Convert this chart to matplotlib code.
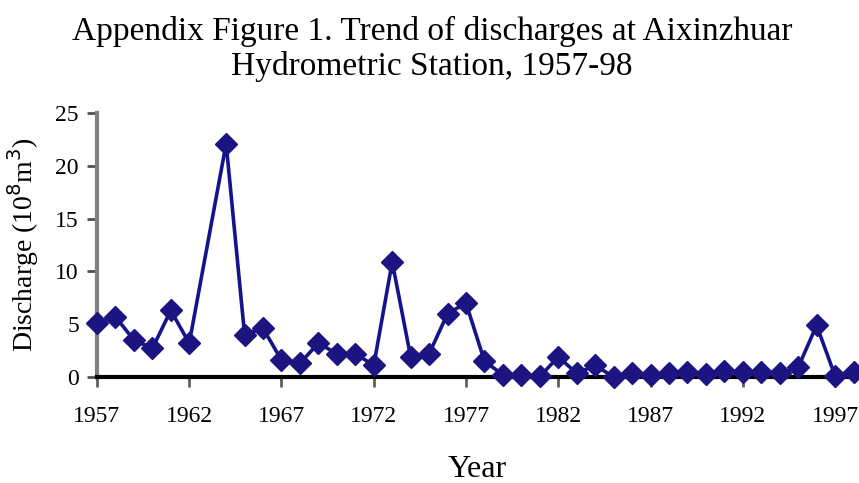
import numpy as np
import matplotlib

matplotlib.use("Agg")
import matplotlib.pyplot as plt

# annual discharge, 10^8 m3 (1963 not recorded)
years = np.arange(1957, 1999)
discharge = [
    5.1, 5.7, 3.5, 2.7, 6.3, 3.2, np.nan, 22.1, 4.0, 4.6,
    1.6, 1.3, 3.2, 2.2, 2.2, 1.1, 10.9, 1.9, 2.2, 6.0,
    7.0, 1.5, 0.2, 0.2, 0.05, 1.9, 0.35, 1.1, 0.0, 0.35,
    0.2, 0.35, 0.5, 0.3, 0.55, 0.5, 0.5, 0.35, 0.9, 4.9,
    0.1, 0.5,
]
tick_years = np.arange(1957, 1998, 5)
y_ticks = [0, 5, 10, 15, 20, 25]

plt.rcParams["font.family"] = ["Liberation Serif", "DejaVu Serif"]

q = np.array(discharge)
ok = ~np.isnan(q)

fig = plt.figure(figsize=(8.59, 4.83), dpi=100)
ax = fig.add_axes([0.1129, 0.2195, 0.885, 0.5466])

ax.plot(years[ok], q[ok], color="#14148c", linewidth=2.6,
        marker="D", markersize=11, markerfacecolor="#1c1480",
        markeredgecolor="#1c1480", clip_on=False, zorder=3)

ax.set_xlim(1957, 1998.2)
ax.set_ylim(0, 25)
ax.set_xticks(tick_years)
ax.set_yticks(y_ticks)
ax.tick_params(axis="both", labelsize=17, direction="out", length=7, width=2)
ax.tick_params(axis="y", colors="#505050", labelcolor="black", pad=6)
ax.tick_params(axis="x", colors="#606060", labelcolor="black", pad=14)

for side in ("top", "right"):
    ax.spines[side].set_visible(False)
ax.spines["left"].set_color("#808080")
ax.spines["left"].set_linewidth(3)
ax.spines["bottom"].set_color("black")
ax.spines["bottom"].set_linewidth(3)

ax.set_xlabel("Year", fontsize=23, labelpad=20)
ax.set_ylabel("Discharge (10$^8$m$^3$)", fontsize=20, labelpad=10)

fig.text(0.503, 0.968, "Appendix Figure 1. Trend of discharges at Aixinzhuar\n"
         "Hydrometric Station, 1957-98",
         ha="center", va="top", fontsize=24, linespacing=1.2)

fig.savefig("out.png", dpi=100)
